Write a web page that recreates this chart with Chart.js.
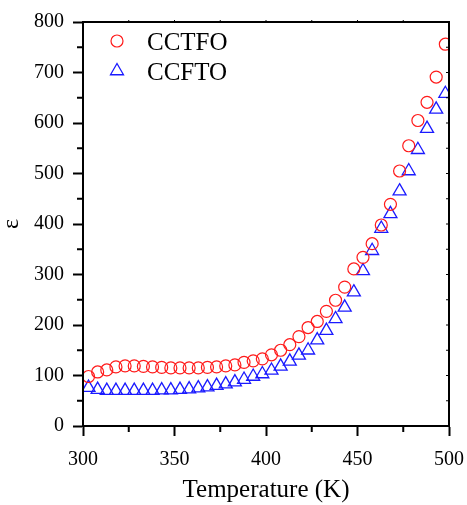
<!DOCTYPE html>
<html>
<head>
<meta charset="utf-8">
<script src="https://cdn.jsdelivr.net/npm/chart.js@4.4.1/dist/chart.umd.min.js"></script>
<style>
  html, body { margin: 0; padding: 0; background: #fff; }
  #wrap { width: 467px; height: 505px; }
</style>
</head>
<body>
<div id="wrap"><canvas id="eps"></canvas></div>
<script>
const temps = [303, 308, 313, 318, 323, 328, 333, 338, 343, 348,
  353, 358, 363, 368, 373, 378, 383, 388, 393, 398,
  403, 408, 413, 418, 423, 428, 433, 438, 443, 448,
  453, 458, 463, 468, 473, 478, 483, 488, 493, 498]
const epsCCTFO = [98, 107, 111, 117, 119, 119, 118, 117, 116, 115,
  115, 115, 115, 116, 117, 119, 121, 126, 129, 133,
  141, 150, 161, 177, 195, 207, 227, 249, 275, 311,
  334, 361, 398, 439, 505, 555, 605, 641, 691, 756]
const epsCCFTO = [76, 72, 70, 70, 70, 70, 70, 70, 71, 71,
  72, 73, 75, 77, 80, 83, 87, 92, 98, 103,
  110, 118, 128, 140, 150, 170, 189, 212, 235, 265,
  307, 347, 391, 420, 465, 505, 547, 589, 627, 658]
const seriesNames = ['CCTFO', 'CCFTO']
const xTicks = [300, 350, 400, 450, 500]
const yTicks = [0, 100, 200, 300, 400, 500, 600, 700, 800]

const serif = "'Liberation Serif', 'Times New Roman', serif"
const styles = [
  { pointStyle: 'circle', radius: 6, color: '#ff1a1a', borderWidth: 1.2 },
  { pointStyle: 'triangle', radius: 7.5, color: '#1a1aff', borderWidth: 1.3 },
]

const toPoints = values => values.map((y, i) => ({ x: temps[i], y }))

// box, minor ticks and the in-plot legend
const framePlugin = {
  id: 'frame',
  afterDraw(chart) {
    const { ctx, chartArea: a, scales: { x, y } } = chart
    ctx.save()
    ctx.strokeStyle = '#000'
    ctx.lineWidth = 2
    ctx.strokeRect(a.left, a.top, a.right - a.left, a.bottom - a.top)

    ctx.beginPath()
    for (let t = 325; t < 500; t += 50) {
      const px = x.getPixelForValue(t)
      ctx.moveTo(px, a.bottom); ctx.lineTo(px, a.bottom + 6)
    }
    for (let v = 50; v < 800; v += 100) {
      const py = y.getPixelForValue(v)
      ctx.moveTo(a.left, py); ctx.lineTo(a.left - 6, py)
    }
    ctx.stroke()

    ctx.lineWidth = 1
    ctx.beginPath()
    for (let t = 325; t < 500; t += 25) {
      const px = x.getPixelForValue(t)
      ctx.moveTo(px, a.top); ctx.lineTo(px, a.top - 2)
    }
    for (let v = 50; v < 800; v += 50) {
      const py = y.getPixelForValue(v)
      ctx.moveTo(a.right, py); ctx.lineTo(a.right - 3, py)
    }
    ctx.stroke()

    ctx.font = `25px ${serif}`
    ctx.textBaseline = 'alphabetic'
    seriesNames.forEach((name, i) => {
      const s = styles[i]
      const cy = a.top + 19 + i * 30
      ctx.strokeStyle = s.color
      ctx.fillStyle = 'rgba(0,0,0,0)'
      ctx.lineWidth = s.borderWidth
      Chart.helpers.drawPoint(ctx, { pointStyle: s.pointStyle, radius: s.radius, rotation: 0, borderWidth: s.borderWidth }, a.left + 34, cy)
      ctx.fillStyle = '#000'
      ctx.fillText(name, a.left + 64, cy + 8.5)
    })
    ctx.restore()
  },
}

const datasets = [epsCCTFO, epsCCFTO].map((values, i) => ({
  label: seriesNames[i],
  data: toPoints(values),
  showLine: false,
  pointStyle: styles[i].pointStyle,
  pointRadius: styles[i].radius,
  pointHoverRadius: styles[i].radius,
  pointBorderColor: styles[i].color,
  pointBackgroundColor: 'rgba(0,0,0,0)',
  pointBorderWidth: styles[i].borderWidth,
}))

new Chart(document.querySelector('#eps'), {
  type: 'line',
  data: { datasets },
  plugins: [framePlugin],
  options: {
    responsive: true,
    maintainAspectRatio: false,
    animation: false,
    layout: { padding: { top: 22, right: 18, left: 0, bottom: 0 } },
    plugins: {
      legend: { display: false },
      tooltip: { enabled: false },
    },
    scales: {
      x: {
        type: 'linear',
        min: 300,
        max: 500,
        afterFit: scale => {
          scale.height = 79
          scale.paddingLeft = 0
          scale.paddingRight = 0
        },
        afterBuildTicks: scale => { scale.ticks = xTicks.map(value => ({ value })) },
        border: { display: true, color: '#000', width: 2 },
        grid: { drawOnChartArea: false, drawTicks: true, tickLength: 10, tickColor: '#000', tickWidth: 2 },
        ticks: { color: '#000', padding: 12, maxRotation: 0, font: { family: serif, size: 20 } },
        title: { display: true, text: 'Temperature (K)', color: '#000', padding: 0, font: { family: serif, size: 25 } },
      },
      y: {
        min: 0,
        max: 800,
        afterFit: scale => {
          scale.width = 83
          scale.paddingTop = 0
          scale.paddingBottom = 0
        },
        afterBuildTicks: scale => { scale.ticks = yTicks.map(value => ({ value })) },
        border: { display: true, color: '#000', width: 2 },
        grid: { drawOnChartArea: false, drawTicks: true, tickLength: 10, tickColor: '#000', tickWidth: 2 },
        ticks: { color: '#000', padding: 9, font: { family: serif, size: 20 } },
        title: { display: true, text: 'ε', color: '#000', padding: 0, font: { family: serif, size: 24, lineHeight: 1 } },
      },
    },
  },
})
</script>
</body>
</html>
